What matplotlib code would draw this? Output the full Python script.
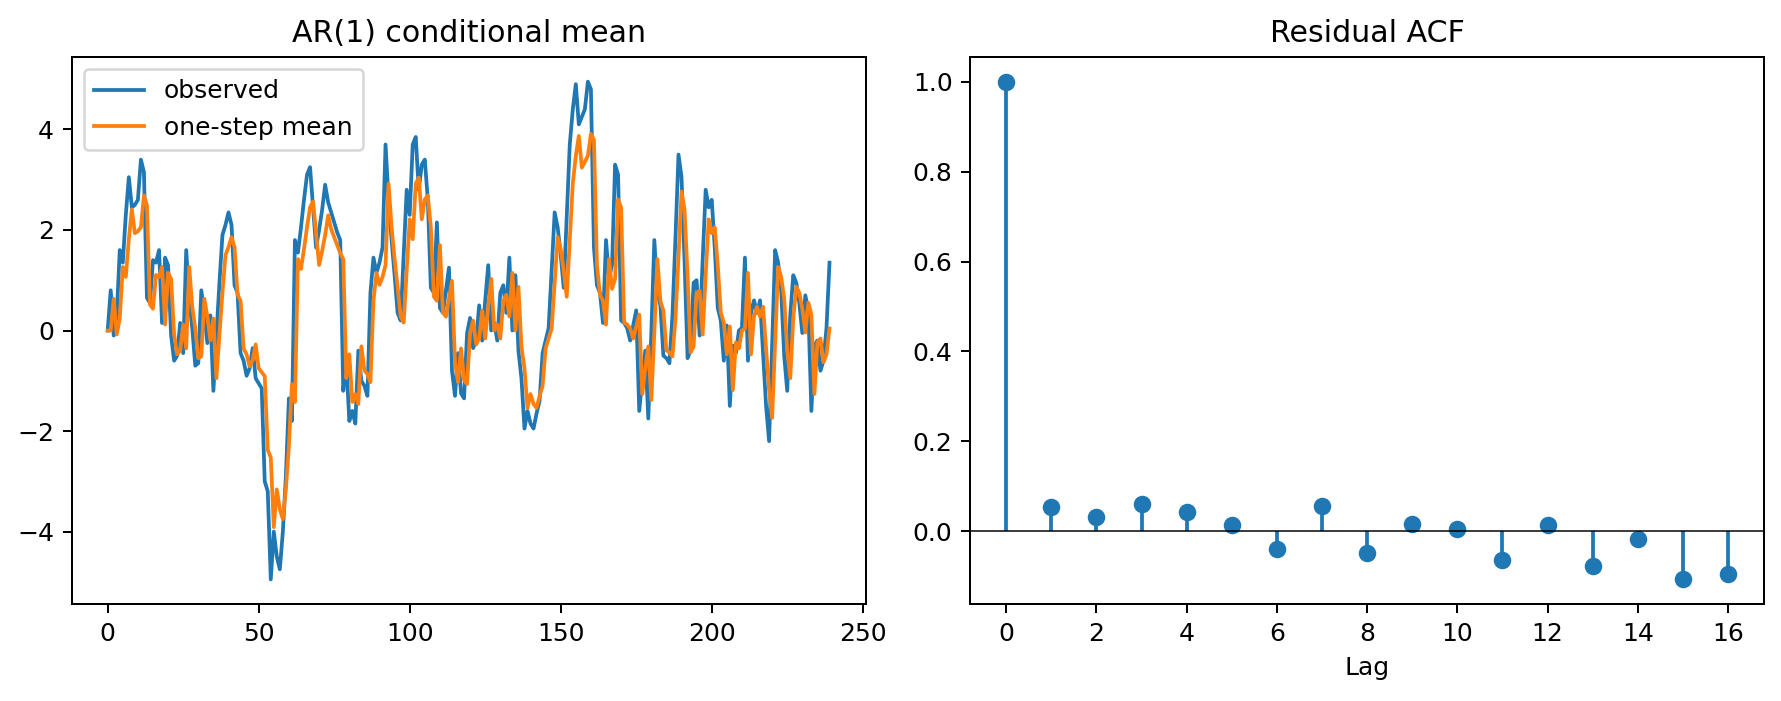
import matplotlib
matplotlib.use("Agg")
import matplotlib.pyplot as plt
import numpy as np

# observed series (t = 0..239)
observed = [
    0.0, 0.8, -0.1, 0.3, 1.6, 1.35, 2.3, 3.05, 2.45, 2.5,
    2.6, 3.4, 3.15, 0.65, 0.55, 1.4, 1.35, 1.6, 0.15, 1.45,
    1.3, -0.1, -0.6, -0.5, 0.15, -0.45, 1.6, 0.6, 0.05, -0.7,
    -0.65, 0.8, 0.35, -0.25, 0.3, -1.2, -0.1, 0.95, 1.9, 2.1,
    2.35, 2.1, 0.9, 0.75, -0.45, -0.6, -0.9, -0.75, -0.35, -0.95,
    -1.05, -1.15, -3.0, -3.2, -4.95, -4.0, -4.5, -4.75, -4.0, -2.9,
    -1.35, -1.8, 1.8, 1.55, 2.05, 2.6, 3.1, 3.25, 2.45, 1.65,
    2.0, 2.4, 2.9, 2.55, 2.35, 2.15, 1.95, 1.8, -1.2, -0.6,
    -1.8, -1.6, -1.85, -0.4, -1.0, -1.1, -1.3, 0.75, 1.45, 1.15,
    1.35, 1.65, 3.7, 2.6, 1.8, 1.1, 0.35, 0.2, 1.5, 2.8,
    2.3, 3.7, 3.85, 2.8, 3.3, 3.4, 2.6, 0.85, 0.75, 2.15,
    0.45, 0.35, 0.8, 1.25, -0.8, -1.3, -0.45, -1.25, -1.35, -0.05,
    0.25, -0.35, -0.2, 0.5, -0.2, 0.6, 1.3, 0.0, 0.15, -0.2,
    0.75, 0.9, 0.35, 1.45, 0.0, 1.1, -0.4, -0.95, -1.95, -1.6,
    -1.85, -1.95, -1.65, -1.4, -0.45, -0.2, 0.05, 1.2, 2.35, 2.05,
    1.5, 0.85, 2.3, 3.7, 4.4, 4.9, 4.1, 4.25, 4.4, 4.95,
    4.8, 1.65, 0.9, 0.75, 0.15, 1.8, 1.05, 1.3, 3.3, 3.1,
    0.2, 0.15, 0.05, -0.2, 0.1, 0.4, -1.6, -0.95, -0.4, -1.75,
    -0.05, 1.8, 0.75, 0.5, -0.5, -0.55, -0.65, 0.3, 1.85, 3.5,
    3.05, 1.4, -0.55, -0.4, 0.95, 1.0, -0.1, 1.4, 2.8, 2.45,
    2.6, 1.65, 0.45, 0.2, -0.6, 0.1, -1.5, -0.3, -0.45, 0.0,
    0.05, 1.45, -0.6, 0.35, 0.6, 0.35, 0.6, -0.45, -1.5, -2.2,
    -0.3, 1.6, 1.35, 0.8, -0.5, -1.2, 0.3, 1.1, 0.95, 0.55,
    -0.05, 0.7, 0.4, -1.6, -0.3, -0.2, -0.8, -0.6, 0.05, 1.35,
]
# AR(1) coefficient as it shows in the chart (mean ~ phi * previous value)
phi = 0.79

# residual autocorrelations, lags 0..16
acf_lags = list(range(17))
acf_values = [1.0, 0.055, 0.031, 0.06, 0.043, 0.013, -0.04, 0.056, -0.048,
              0.016, 0.006, -0.065, 0.013, -0.077, -0.017, -0.107, -0.095]

y = np.array(observed)
t = np.arange(len(y))
mean = np.concatenate([[y[0]], phi * y[:-1]])

fig, (ax1, ax2) = plt.subplots(1, 2, figsize=(1781 / 180, 701 / 180), dpi=180)
fig.subplots_adjust(left=0.0402, right=0.9905, top=0.919, bottom=0.138, wspace=0.1316)

ax1.plot(t, y, label="observed")
ax1.plot(t, mean, label="one-step mean")
ax1.set_title("AR(1) conditional mean")
ax1.legend(loc="upper left")

ax2.stem(acf_lags, acf_values, basefmt=" ")
ax2.axhline(0, color="black", linewidth=0.6)
ax2.set_title("Residual ACF")
ax2.set_xlabel("Lag")

fig.savefig("out.png", dpi=180, facecolor="white")
